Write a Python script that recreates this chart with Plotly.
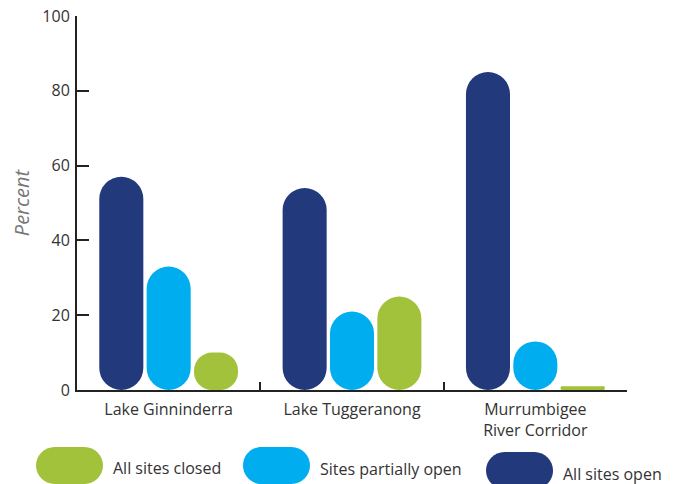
import plotly.graph_objects as go

categories = ["Lake Ginninderra", "Lake Tuggeranong", "Murrumbigee<br>River Corridor"]
all_sites_open = [57, 54, 85]
sites_partially_open = [33, 21, 13]
all_sites_closed = [10, 25, 1]
bar_base = [0, 0, 0]
series_names = ["All sites open", "Sites partially open", "All sites closed"]
series_values = [all_sites_open, sites_partially_open, all_sites_closed]
series_colors = ["#22397B", "#00AEEF", "#A3C23B"]
y_ticks = [0, 20, 40, 60, 80, 100]

FONT = "Open Sans"
TXT = "#333333"

fig = go.Figure()
for name, vals, col in zip(series_names, series_values, series_colors):
    # an explicit base makes plotly round both ends of the bar
    fig.add_trace(go.Bar(x=categories, y=vals, base=bar_base, name=name,
                         marker=dict(color=col, line=dict(width=0)),
                         showlegend=False))

# page has an 8px body margin; plot area in page pixels: left 77, bottom 390
L, B = 77, 390
PW, PH = 550, 374


def pill_path(x0, ytop, w, h):
    dx0 = x0 - L
    dy0 = B - (ytop + h)
    r = h / 2
    k = 0.5523 * r
    x1 = dx0 + w
    y1 = dy0 + h
    ym = dy0 + r
    return (f"M {dx0 + r},{dy0} L {x1 - r},{dy0} "
            f"C {x1 - r + k},{dy0} {x1},{ym - k} {x1},{ym} "
            f"C {x1},{ym + k} {x1 - r + k},{y1} {x1 - r},{y1} "
            f"L {dx0 + r},{y1} "
            f"C {dx0 + r - k},{y1} {dx0},{ym + k} {dx0},{ym} "
            f"C {dx0},{ym - k} {dx0 + r - k},{dy0} {dx0 + r},{dy0} Z")


legend_items = [
    ("All sites closed", "#A3C23B", 36, 447, 113, 468),
    ("Sites partially open", "#00AEEF", 243, 447, 320, 469),
    ("All sites open", "#22397B", 486, 452, 563, 474),
]
shapes = []
annotations = []
for label, col, px, py, tx, ty in legend_items:
    shapes.append(dict(type="path", xref="paper", yref="paper",
                       xsizemode="pixel", ysizemode="pixel", xanchor=0, yanchor=0,
                       path=pill_path(px, py, 67, 37), fillcolor=col,
                       line=dict(width=0), layer="above"))
    annotations.append(dict(text=label, xref="paper", yref="paper",
                            x=(tx - L) / PW, y=(B - ty) / PH,
                            xanchor="left", yanchor="middle", showarrow=False,
                            xshift=-2,
                            font=dict(family=FONT, size=16, color=TXT)))

fig.update_layout(
    width=675, height=476,
    margin=dict(l=69, r=56, t=8, b=94, autoexpand=False),
    paper_bgcolor="white", plot_bgcolor="white",
    barmode="group", bargap=0.225, bargroupgap=0.07,
    barcornerradius="50%",
    font=dict(family=FONT, color=TXT),
    shapes=shapes, annotations=annotations,
    showlegend=False,
)
fig.update_xaxes(
    automargin=False,
    showline=True, linecolor="#222222", linewidth=2,
    ticks="inside", tickson="boundaries", ticklen=8, tickwidth=2, tickcolor="#222222",
    showgrid=False, zeroline=False,
    tickfont=dict(family=FONT, size=16, color=TXT),
    ticklabelstandoff=4,
)
fig.update_yaxes(
    automargin=False,
    range=[0, 100], tickvals=y_ticks,
    ticklabeloverflow="allow",
    showline=True, linecolor="#222222", linewidth=2,
    ticks="inside", ticklen=12, tickwidth=2, tickcolor="#222222",
    showgrid=False, zeroline=False,
    tickfont=dict(family=FONT, size=16, color=TXT),
    ticklabelstandoff=2,
    title=dict(text="Percent", standoff=8,
               font=dict(family=FONT, size=20, color="#777777", style="italic")),
)

fig.write_html("out.html")
